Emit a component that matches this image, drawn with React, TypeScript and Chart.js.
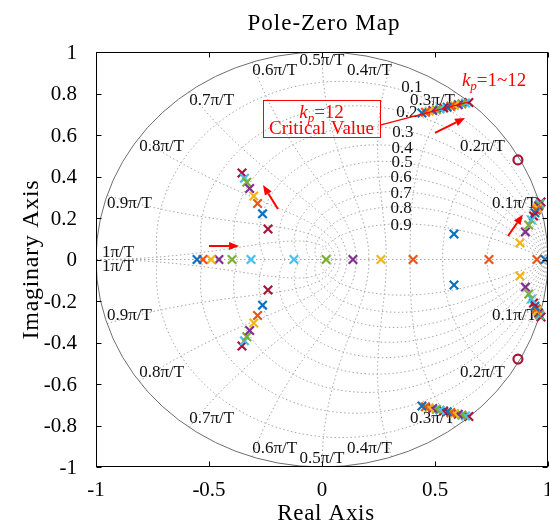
import React, { useEffect, useRef } from 'react';
import { Chart, registerables } from 'chart.js';

Chart.register(...registerables);

const FONT = '"Liberation Serif", "Times New Roman", serif';

// ---------- axes ----------
const xTicks = [-1, -0.5, 0, 0.5, 1];
const xTickLabels = ['-1', '-0.5', '0', '0.5', '1'];
const yTicks = [1, 0.8, 0.6, 0.4, 0.2, 0, -0.2, -0.4, -0.6, -0.8, -1];
const yTickLabels = ['1', '0.8', '0.6', '0.4', '0.2', '0', '-0.2', '-0.4', '-0.6', '-0.8', '-1'];

// ---------- z-grid ----------
const dampingRatios = [0.1, 0.2, 0.3, 0.4, 0.5, 0.6, 0.7, 0.8, 0.9];
const dampingLabels = ['0.1', '0.2', '0.3', '0.4', '0.5', '0.6', '0.7', '0.8', '0.9'];
const freqSteps = [1, 2, 3, 4, 5, 6, 7, 8, 9, 10];
const freqLabels = ['0.1π/T', '0.2π/T', '0.3π/T', '0.4π/T', '0.5π/T', '0.6π/T', '0.7π/T', '0.8π/T', '0.9π/T', '1π/T'];

// ---------- poles (upper half; conjugates mirrored), one entry per series ----------
const seriesNames = ['s1', 's2', 's3', 's4', 's5', 's6', 's7', 's8', 's9', 's10', 's11', 's12', 's13', 's14'];
const nearCircleRe = [0.442, 0.458, 0.474, 0.490, 0.506, 0.522, 0.538, 0.554, 0.570, 0.586, 0.603, 0.619, 0.635, 0.650];
const nearCircleIm = [0.706, 0.710, 0.714, 0.718, 0.722, 0.726, 0.730, 0.734, 0.738, 0.742, 0.746, 0.750, 0.754, 0.757];
const leftRealPole = [-0.553, -0.527, -0.491, -0.456, -0.398, -0.314, null, null, null, null, null, null, null, null];
const midRealPole = [null, 0.403, 0.261, 0.137, 0.018, -0.124, null, null, null, null, null, null, null, null];
const outerRealPoleA = [0.987, 0.951, null, null, null, null, null, null, null, null, null, null, null, null];
const outerRealPoleB = [null, 0.739, null, null, null, null, null, null, null, null, null, null, null, null];
const innerPairRe = [0.584, null, null, null, null, null, null, null, null, null, null, null, null, null];
const innerPairIm = [0.123, null, null, null, null, null, null, null, null, null, null, null, null, null];
const rightPairRe = [null, null, 0.876, 0.900, 0.915, 0.927, 0.936, 0.942, 0.948, 0.953, 0.958, 0.961, 0.964, 0.969];
const rightPairIm = [null, null, 0.080, 0.133, 0.166, 0.190, 0.210, 0.225, 0.238, 0.248, 0.257, 0.263, 0.269, 0.277];
const leftPairRe = [null, null, null, null, null, null, -0.239, -0.263, -0.285, -0.302, -0.320, -0.333, -0.343, -0.354];
const leftPairIm = [null, null, null, null, null, null, 0.147, 0.220, 0.270, 0.306, 0.342, 0.372, 0.392, 0.417];

// zeros
const zeroRe = [0.867];
const zeroIm = [0.48];

const palette = ['#0a72c0', '#e8561a', '#f2b418', '#82308f', '#79b02f', '#46c0ef', '#a8143a'];

// ---------- annotation placement (data coordinates) ----------
const LABEL_POS = {
  dampingX: [0.398, 0.376, 0.358, 0.354, 0.354, 0.350, 0.350, 0.350, 0.350],
  dampingY: [0.831, 0.706, 0.614, 0.537, 0.465, 0.393, 0.320, 0.248, 0.166],
  kpText: { x: 0.619, y: 0.836 },
  box: { x0: -0.261, x1: 0.257, y0: 0.769, y1: 0.590, line1: 0.684, line2: 0.607 },
  leader: { x0: 0.257, y0: 0.648, x1: 0.646, y1: 0.759 },
  arrows: [
    { x0: 0.500, y0: 0.610, x1: 0.633, y1: 0.682 },
    { x0: -0.195, y0: 0.243, x1: -0.261, y1: 0.359 },
    { x0: -0.500, y0: 0.065, x1: -0.367, y1: 0.065 },
    { x0: 0.823, y0: 0.113, x1: 0.889, y1: 0.217 },
  ],
};

function buildDatasets() {
  const ds: any[] = [];
  seriesNames.forEach((name, i) => {
    const pts: { x: number; y: number }[] = [];
    const pair = (re: number | null, im: number | null) => {
      if (re === null || im === null) return;
      pts.push({ x: re, y: im }, { x: re, y: -im });
    };
    const real = (re: number | null) => {
      if (re === null) return;
      pts.push({ x: re, y: 0 });
    };
    pair(nearCircleRe[i], nearCircleIm[i]);
    real(leftRealPole[i]);
    real(midRealPole[i]);
    real(outerRealPoleA[i]);
    real(outerRealPoleB[i]);
    pair(innerPairRe[i], innerPairIm[i]);
    pair(rightPairRe[i], rightPairIm[i]);
    pair(leftPairRe[i], leftPairIm[i]);
    const c = palette[i % palette.length];
    ds.push({
      label: name,
      data: pts,
      pointStyle: 'crossRot',
      pointRadius: 6,
      pointHoverRadius: 6,
      borderWidth: 2.2,
      borderColor: c,
      backgroundColor: c,
      showLine: false,
    });
  });
  const zpts: { x: number; y: number }[] = [];
  zeroRe.forEach((re, k) => {
    zpts.push({ x: re, y: zeroIm[k] }, { x: re, y: -zeroIm[k] });
  });
  ds.push({
    label: 'zeros',
    data: zpts,
    pointStyle: 'circle',
    pointRadius: 4.5,
    pointHoverRadius: 4.5,
    borderWidth: 2.2,
    borderColor: '#a8143a',
    backgroundColor: 'rgba(0,0,0,0)',
    showLine: false,
  });
  return ds;
}

function arrow(ctx: CanvasRenderingContext2D, x0: number, y0: number, x1: number, y1: number) {
  const ang = Math.atan2(y1 - y0, x1 - x0);
  const hl = 10, hw = 4;
  const bx = x1 - hl * Math.cos(ang), by = y1 - hl * Math.sin(ang);
  ctx.beginPath();
  ctx.moveTo(x0, y0);
  ctx.lineTo(bx, by);
  ctx.stroke();
  ctx.beginPath();
  ctx.moveTo(x1, y1);
  ctx.lineTo(bx + hw * Math.sin(ang), by - hw * Math.cos(ang));
  ctx.lineTo(bx - hw * Math.sin(ang), by + hw * Math.cos(ang));
  ctx.closePath();
  ctx.fill();
}

function drawKp(ctx: any, x: number, y: number, rest: string, size: number, align: 'left' | 'center') {
  ctx.textBaseline = 'alphabetic';
  ctx.textAlign = 'left';
  const kF = `italic ${size}px ${FONT}`;
  const pF = `italic ${Math.round(size * 0.7)}px ${FONT}`;
  const rF = `${size}px ${FONT}`;
  ctx.font = kF; const wk = ctx.measureText('k').width;
  ctx.font = pF; const wp = ctx.measureText('p').width;
  ctx.font = rF; const wr = ctx.measureText(rest).width;
  let sx = align === 'center' ? x - (wk + wp + wr) / 2 : x;
  ctx.font = kF; ctx.fillText('k', sx, y); sx += wk;
  ctx.font = pF; ctx.fillText('p', sx, y + size * 0.22); sx += wp;
  ctx.font = rF; ctx.fillText(rest, sx, y);
}

const zgridPlugin = {
  id: 'zgrid',
  beforeDatasetsDraw(chart: any) {
    const { ctx, chartArea: a } = chart;
    const xs = chart.scales.x, ys = chart.scales.y;
    const X = (v: number) => xs.getPixelForValue(v);
    const Y = (v: number) => ys.getPixelForValue(v);
    ctx.save();
    ctx.beginPath();
    ctx.rect(a.left, a.top, a.right - a.left, a.bottom - a.top);
    ctx.clip();
    ctx.strokeStyle = '#a4a4a4';
    ctx.lineWidth = 1;
    ctx.setLineDash([1.5, 2.5]);
    ctx.beginPath();
    // damping-ratio spirals
    for (const z of dampingRatios) {
      for (const s of [1, -1]) {
        const N = 240;
        for (let k = 0; k <= N; k++) {
          const th = (Math.PI * k) / N;
          const r = Math.exp((-z * th) / Math.sqrt(1 - z * z));
          const px = X(r * Math.cos(th)), py = Y(s * r * Math.sin(th));
          if (k === 0) ctx.moveTo(px, py); else ctx.lineTo(px, py);
        }
      }
    }
    // natural-frequency curves
    for (const f of freqSteps) {
      const wn = (f * Math.PI) / 10;
      for (const s of [1, -1]) {
        const N = 120;
        for (let k = 0; k <= N; k++) {
          const z = k / N;
          const r = Math.exp(-z * wn);
          const th = wn * Math.sqrt(1 - z * z);
          const px = X(r * Math.cos(th)), py = Y(s * r * Math.sin(th));
          if (k === 0) ctx.moveTo(px, py); else ctx.lineTo(px, py);
        }
      }
    }
    ctx.moveTo(X(-1), Y(0));
    ctx.lineTo(X(1), Y(0));
    ctx.stroke();
    // unit circle
    ctx.setLineDash([]);
    ctx.strokeStyle = '#6e6e6e';
    ctx.beginPath();
    ctx.ellipse(X(0), Y(0), X(1) - X(0), Y(0) - Y(1), 0, 0, Math.PI * 2);
    ctx.stroke();
    ctx.restore();

    // grid labels
    ctx.save();
    ctx.fillStyle = '#111';
    ctx.font = `17px ${FONT}`;
    dampingLabels.forEach((t, i) => {
      ctx.textAlign = 'center';
      ctx.textBaseline = 'middle';
      ctx.fillText(t, X(LABEL_POS.dampingX[i]), Y(LABEL_POS.dampingY[i]));
    });
    freqLabels.forEach((t, i) => {
      const f = freqSteps[i];
      const ang = (f * Math.PI) / 10;
      for (const s of [1, -1]) {
        const px = X(Math.cos(ang)), py = Y(s * Math.sin(ang));
        ctx.textAlign = f < 5 ? 'right' : f === 5 ? 'center' : 'left';
        if (f === 10) ctx.textBaseline = s > 0 ? 'bottom' : 'top';
        else ctx.textBaseline = s > 0 ? 'top' : 'bottom';
        ctx.fillText(t, px + (f === 10 ? 6 : 0), py + (f === 10 ? (s > 0 ? 2 : -1) : 0));
      }
    });
    ctx.restore();
  },
  afterDatasetsDraw(chart: any) {
    const { ctx, chartArea: a } = chart;
    const xs = chart.scales.x, ys = chart.scales.y;
    const X = (v: number) => xs.getPixelForValue(v);
    const Y = (v: number) => ys.getPixelForValue(v);
    ctx.save();
    // frame
    ctx.strokeStyle = '#000';
    ctx.lineWidth = 1;
    const L = Math.round(a.left) + 0.5, R = Math.round(a.right) - 0.5;
    const T = Math.round(a.top) + 0.5, B = Math.round(a.bottom) - 0.5;
    ctx.strokeRect(L, T, R - L, B - T);
    ctx.beginPath();
    const tl = 5;
    xTicks.forEach((v) => {
      const px = Math.round(X(v)) + 0.5;
      ctx.moveTo(px, B); ctx.lineTo(px, B - tl);
      ctx.moveTo(px, T); ctx.lineTo(px, T + tl);
    });
    yTicks.forEach((v) => {
      const py = Math.round(Y(v)) + 0.5;
      ctx.moveTo(L, py); ctx.lineTo(L + tl, py);
      ctx.moveTo(R, py); ctx.lineTo(R - tl, py);
    });
    ctx.stroke();

    // tick labels
    ctx.fillStyle = '#000';
    ctx.font = `21px ${FONT}`;
    ctx.textAlign = 'center';
    ctx.textBaseline = 'middle';
    xTicks.forEach((v, i) => ctx.fillText(xTickLabels[i], X(v), 490));
    ctx.textAlign = 'right';
    yTicks.forEach((v, i) => ctx.fillText(yTickLabels[i], 77, Y(v) + 1));

    // titles
    ctx.textAlign = 'center';
    ctx.textBaseline = 'alphabetic';
    ctx.font = `23px ${FONT}`;
    ctx.letterSpacing = '1px';
    ctx.fillText('Pole-Zero Map', X(0) + 2, 30);
    ctx.letterSpacing = '0.7px';
    ctx.font = `23px ${FONT}`;
    ctx.fillText('Real Axis', X(0) + 4, 520);
    ctx.save();
    ctx.translate(38, Y(0));
    ctx.rotate(-Math.PI / 2);
    ctx.font = `24px ${FONT}`;
    ctx.fillText('Imaginary Axis', 0, 0);
    ctx.restore();
    ctx.letterSpacing = '0px';

    // annotations
    ctx.strokeStyle = '#ff0000';
    ctx.fillStyle = '#ff0000';
    drawKp(ctx, X(LABEL_POS.kpText.x), Y(LABEL_POS.kpText.y), '=1~12', 19, 'left');
    const b = LABEL_POS.box;
    ctx.lineWidth = 1;
    ctx.strokeRect(Math.round(X(b.x0)) + 0.5, Math.round(Y(b.y0)) + 0.5, Math.round(X(b.x1) - X(b.x0)), Math.round(Y(b.y1) - Y(b.y0)));
    const cx = (X(b.x0) + X(b.x1)) / 2;
    drawKp(ctx, cx, Y(b.line1), '=12', 19, 'center');
    ctx.font = `19px ${FONT}`;
    ctx.textAlign = 'center';
    ctx.textBaseline = 'alphabetic';
    ctx.fillText('Critical Value', cx, Y(b.line2));
    const ld = LABEL_POS.leader;
    ctx.lineWidth = 1.3;
    ctx.beginPath();
    ctx.moveTo(X(ld.x0), Y(ld.y0));
    ctx.lineTo(X(ld.x1), Y(ld.y1));
    ctx.stroke();
    ctx.lineWidth = 2;
    LABEL_POS.arrows.forEach((ar) => arrow(ctx, X(ar.x0), Y(ar.y0), X(ar.x1), Y(ar.y1)));
    ctx.restore();
  },
};

export default function App() {
  const ref = useRef<HTMLCanvasElement | null>(null);
  useEffect(() => {
    if (!ref.current) return;
    const chart = new Chart(ref.current, {
      type: 'scatter',
      data: { datasets: buildDatasets() },
      options: {
        responsive: false,
        animation: false,
        layout: { autoPadding: false, padding: { left: 96, top: 52, right: 1, bottom: 58 } },
        plugins: { legend: { display: false }, tooltip: { enabled: false }, title: { display: false } },
        scales: {
          x: { type: 'linear', min: -1, max: 1, display: false },
          y: { type: 'linear', min: -1, max: 1, display: false },
        },
        events: [],
      },
      plugins: [zgridPlugin],
    });
    return () => chart.destroy();
  }, []);
  return (
    <div style={{ position: 'fixed', left: 0, top: 0, width: 549, height: 525, background: '#fff' }}>
      <canvas ref={ref} width={549} height={525} style={{ display: 'block' }} />
    </div>
  );
}
